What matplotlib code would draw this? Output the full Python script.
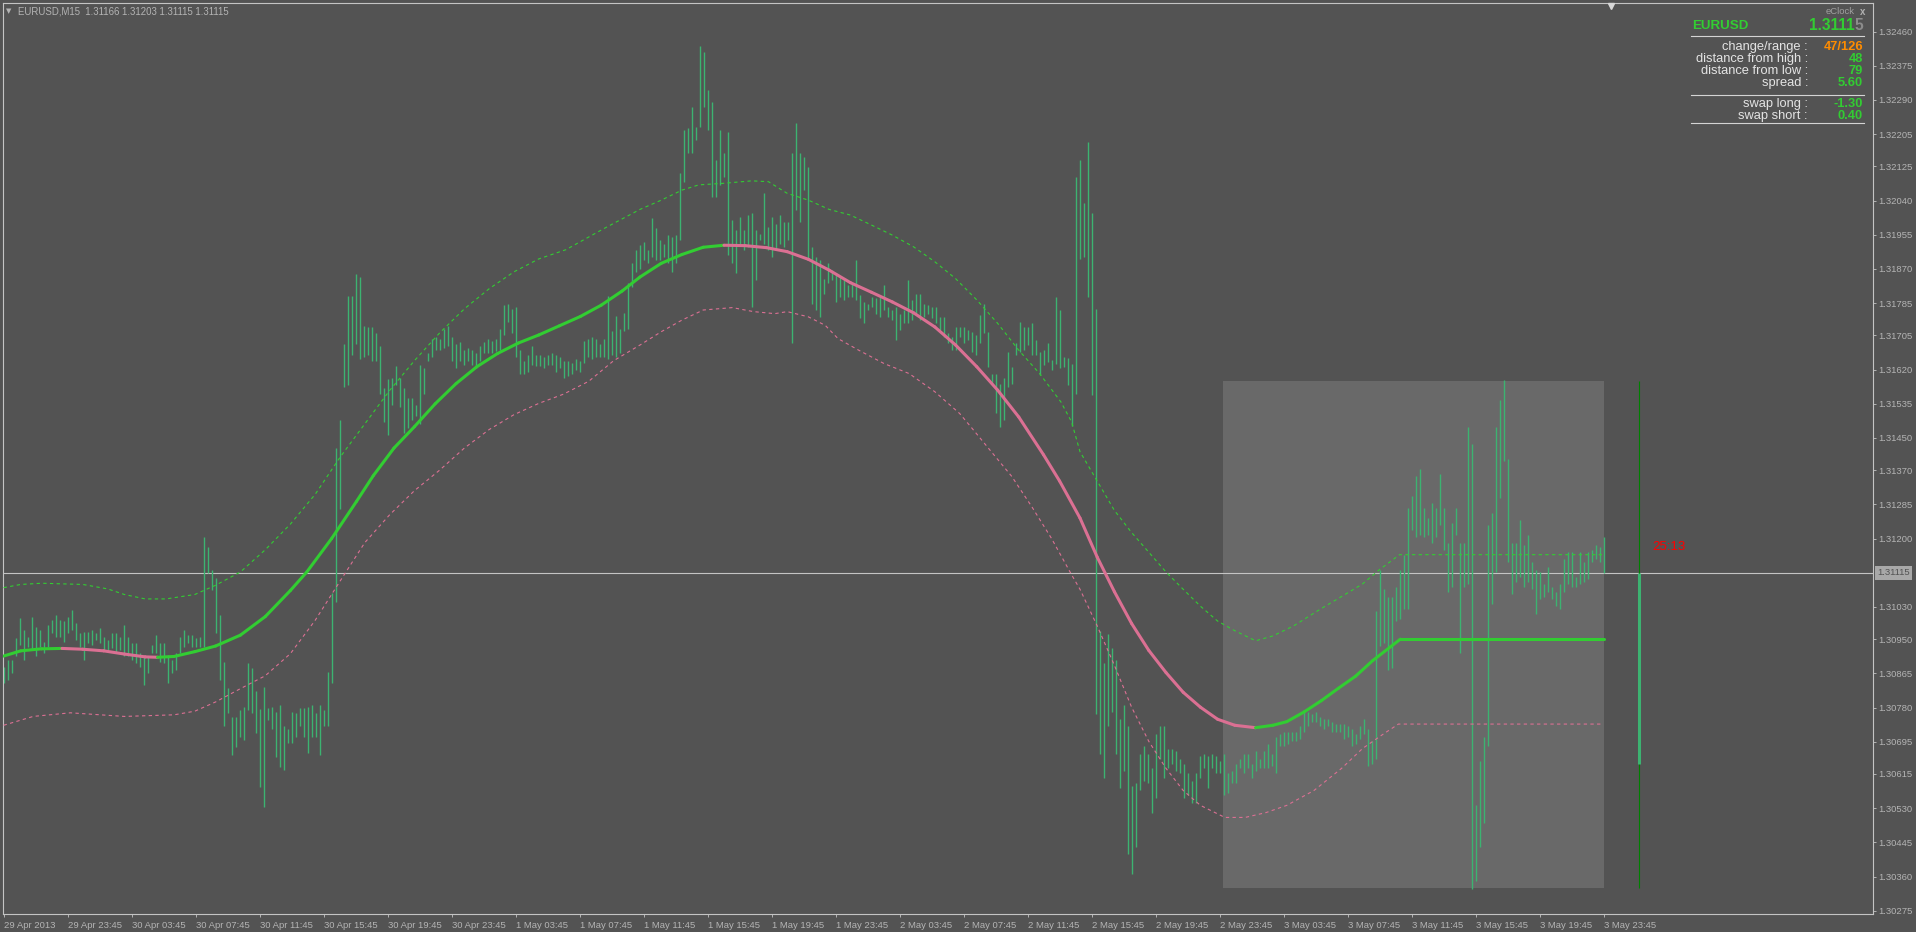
import numpy as np
import matplotlib.pyplot as plt
from matplotlib.patches import Rectangle
from matplotlib.collections import LineCollection
from matplotlib.lines import Line2D

plt.rcParams['font.family'] = ['Liberation Sans', 'DejaVu Sans']

W, H = 1916, 932
BG = '#535353'
TXT = '#b4b4b4'
BAR = '#3cb371'
UP = '#32cd32'
DN = '#db7093'

# EURUSD M15, bar 0 = 29 Apr 19:45 ... bar 400 = 3 May 23:45
# high / low in points above 1.30000
hi_pts = [
    882, 898, 898, 952, 1002, 973, 956, 1006, 981, 973,
    944, 985, 998, 1010, 998, 994, 1006, 1023, 990, 965,
    969, 969, 973, 965, 977, 956, 948, 965, 965, 956,
    985, 956, 940, 940, 915, 907, 907, 936, 961, 940,
    940, 911, 898, 915, 956, 973, 961, 961, 952, 956,
    1205, 1180, 1122, 1101, 1010, 894, 828, 757, 757, 774,
    782, 890, 878, 820, 776, 831, 778, 782, 770, 787,
    733, 728, 770, 766, 778, 778, 782, 787, 766, 787,
    774, 869, 1064, 1425, 1494, 1683, 1803, 1803, 1858, 1849,
    1729, 1725, 1725, 1711, 1679, 1573, 1596, 1600, 1628, 1600,
    1573, 1550, 1550, 1531, 1632, 1623, 1660, 1697, 1702, 1697,
    1720, 1729, 1702, 1683, 1688, 1669, 1674, 1669, 1660, 1679,
    1688, 1697, 1692, 1697, 1720, 1780, 1784, 1771, 1775, 1669,
    1642, 1655, 1679, 1655, 1655, 1651, 1655, 1660, 1655, 1651,
    1642, 1642, 1637, 1646, 1642, 1692, 1697, 1702, 1697, 1683,
    1697, 1803, 1715, 1752, 1720, 1761, 1835, 1886, 1918, 1930,
    1938, 1917, 1996, 1971, 1942, 1933, 1954, 1950, 1954, 2108,
    2215, 2220, 2273, 2224, 2423, 2410, 2315, 2286, 2141, 2215,
    2157, 2211, 1991, 1967, 1999, 1967, 2004, 2008, 1967, 1958,
    2058, 1975, 1999, 1983, 2004, 1987, 1987, 2157, 2232, 2157,
    2149, 2124, 1925, 1900, 1892, 1846, 1884, 1867, 1859, 1851,
    1842, 1830, 1834, 1892, 1805, 1788, 1784, 1801, 1797, 1801,
    1830, 1776, 1768, 1776, 1759, 1768, 1842, 1793, 1809, 1809,
    1784, 1780, 1776, 1776, 1751, 1751, 1710, 1701, 1726, 1726,
    1726, 1718, 1714, 1706, 1755, 1784, 1714, 1610, 1610, 1585,
    1598, 1664, 1627, 1685, 1739, 1726, 1726, 1735, 1693, 1664,
    1668, 1685, 1643, 1801, 1768, 1652, 1648, 1635, 2099, 2141,
    2033, 2186, 2008, 1770, 971, 891, 964, 928, 897, 751,
    787, 733, 586, 592, 665, 684, 665, 629, 714, 733,
    733, 677, 677, 671, 653, 641, 617, 598, 617, 659,
    665, 659, 665, 659, 647, 665, 617, 623, 641, 653,
    665, 665, 641, 671, 653, 671, 690, 665, 708, 714,
    720, 720, 720, 720, 733, 775, 769, 763, 769, 757,
    751, 751, 745, 739, 739, 739, 733, 726, 714, 733,
    751, 726, 696, 1019, 1123, 1074, 1056, 1056, 1080, 1123,
    1160, 1276, 1306, 1355, 1374, 1276, 1251, 1288, 1276, 1361,
    1276, 1190, 1239, 1276, 1190, 1190, 1477, 1435, 537, 647,
    708, 1233, 1264, 1477, 1544, 1593, 1398, 1190, 1190, 1245,
    1184, 1209, 1141, 1123, 1117, 1087, 1129, 1080, 1068, 1087,
    1148, 1166, 1166, 1105, 1166, 1141, 1166, 1172, 1184, 1178,
    1203,
]
lo_pts = [
    840, 849, 865, 907, 936, 898, 931, 923, 907, 931,
    915, 931, 965, 956, 956, 944, 965, 973, 948, 931,
    898, 940, 936, 948, 940, 923, 919, 927, 915, 923,
    907, 907, 898, 890, 882, 836, 865, 915, 915, 894,
    890, 840, 865, 873, 915, 931, 940, 931, 931, 931,
    931, 1114, 1072, 965, 849, 733, 766, 662, 683, 708,
    699, 774, 766, 716, 583, 533, 749, 728, 658, 633,
    625, 691, 691, 708, 733, 708, 666, 708, 708, 662,
    733, 733, 840, 1042, 1273, 1577, 1582, 1655, 1683, 1646,
    1651, 1655, 1642, 1642, 1559, 1490, 1458, 1531, 1582, 1527,
    1462, 1476, 1494, 1504, 1485, 1559, 1642, 1651, 1669, 1669,
    1674, 1679, 1642, 1623, 1642, 1632, 1642, 1632, 1623, 1642,
    1660, 1660, 1660, 1665, 1669, 1706, 1738, 1711, 1651, 1609,
    1609, 1614, 1632, 1628, 1628, 1623, 1632, 1632, 1614, 1623,
    1600, 1605, 1609, 1619, 1614, 1637, 1651, 1646, 1651, 1651,
    1651, 1646, 1655, 1651, 1660, 1715, 1720, 1826, 1863, 1870,
    1892, 1884, 1900, 1892, 1892, 1900, 1884, 1863, 1884, 1942,
    2087, 2157, 2157, 2190, 2224, 2273, 2215, 2050, 2050, 2079,
    2099, 1904, 1884, 1859, 1933, 1917, 1925, 1776, 1842, 1942,
    1933, 1917, 1900, 1917, 1933, 1925, 1942, 1685, 2016, 1987,
    2066, 1892, 1784, 1768, 1751, 1809, 1834, 1842, 1788, 1801,
    1793, 1801, 1801, 1793, 1747, 1735, 1768, 1776, 1759, 1751,
    1768, 1751, 1743, 1693, 1718, 1735, 1735, 1743, 1759, 1743,
    1751, 1759, 1747, 1735, 1718, 1701, 1685, 1668, 1668, 1701,
    1685, 1693, 1664, 1656, 1685, 1710, 1627, 1585, 1511, 1478,
    1494, 1577, 1585, 1656, 1664, 1668, 1681, 1656, 1656, 1606,
    1631, 1639, 1619, 1635, 1623, 1627, 1581, 1480, 1560, 1896,
    1899, 1801, 1557, 763, 665, 604, 733, 769, 665, 580,
    623, 415, 366, 433, 574, 598, 592, 519, 555, 653,
    604, 629, 641, 623, 617, 555, 562, 543, 543, 604,
    629, 580, 629, 617, 617, 562, 568, 592, 592, 629,
    617, 629, 604, 623, 629, 629, 629, 635, 617, 684,
    684, 690, 696, 696, 702, 720, 733, 745, 745, 733,
    726, 733, 720, 720, 720, 702, 708, 684, 690, 702,
    714, 635, 641, 653, 934, 940, 873, 879, 995, 1001,
    1025, 1025, 1221, 1203, 1209, 1203, 1209, 1190, 1203, 1233,
    1172, 1068, 1080, 1209, 916, 1080, 1087, 330, 348, 433,
    494, 684, 1038, 1117, 1300, 1392, 1141, 1062, 1093, 1105,
    1080, 1093, 1074, 1013, 1050, 1056, 1068, 1050, 1032, 1026,
    1068, 1087, 1080, 1080, 1087, 1093, 1099, 1141, 1148, 1141,
    1115,
]

# centered moving average and its bands (bar index, points)
ma_x = [0, 4.3, 9.5, 14.6, 19.8, 25, 30.2, 35.4, 38.5, 42.6, 47.8, 53, 59.2, 65.4,
        71.7, 75.8, 82, 88.2, 92.4, 97.6, 102.7, 107.9, 113.1, 118.3, 123.5, 128.7,
        133.8, 139, 144.2, 149.4, 154.6, 159.1, 164.4, 169.6, 174.9, 180.1, 185.4,
        190.7, 195.9, 201.2, 206.4, 211.7, 217, 222.2, 227.5, 232.8, 238, 243.3,
        248.5, 253.8, 260, 264, 269.1, 273.4, 277.7, 282, 286.3, 290.6, 294.9, 299.2,
        303.5, 307.8, 313, 317.3, 320.8, 325.1, 329.4, 333.7, 338, 342.3, 346.6,
        349.2, 400]
ma_pts = [908, 921, 926, 927, 925, 921, 913, 906, 905, 907, 919, 933, 960, 1006,
          1071, 1117, 1200, 1292, 1356, 1425, 1478, 1535, 1585, 1627, 1660, 1686,
          1706, 1729, 1752, 1780, 1815, 1850, 1884, 1906, 1924, 1929, 1928,
          1923, 1913, 1894, 1867, 1836, 1812, 1788, 1761, 1726, 1681, 1627,
          1569, 1502, 1408, 1343, 1251, 1154, 1068, 989, 922, 867, 818, 781,
          751, 736, 730, 736, 745, 769, 797, 828, 858, 897, 930,
          950, 950]

up_x = [0, 4.3, 9.5, 19.8, 26, 30.2, 35.4, 40.6, 47.8, 53, 59.2, 65.4, 71.7, 77.9,
        84.1, 90.3, 96.5, 102.7, 109, 115.2, 121.4, 127.6, 133.8, 140.6, 150, 159.1,
        164.4, 169.6, 173.8, 180.1, 187, 191.2, 195.9, 201.2, 206.4, 211.7, 217,
        222.2, 227.5, 232.8, 238, 243.3, 248.5, 253.8, 259, 264.3, 267, 269.1, 273.4,
        277.7, 282, 286.3, 290.6, 294.9, 299.2, 303.5, 307.8, 313, 317.3, 322.5,
        329.4, 334.5, 339.7, 344, 349, 400]
up_pts = [1078, 1086, 1089, 1086, 1075, 1061, 1050, 1050, 1061, 1084, 1117, 1172,
          1236, 1310, 1402, 1485, 1568, 1642, 1711, 1771, 1821, 1863, 1895, 1918,
          1970, 2018, 2041, 2066, 2079, 2083, 2089, 2087, 2058, 2041, 2018, 2004,
          1979, 1954, 1925, 1888, 1846, 1793, 1735, 1668, 1610, 1540, 1490, 1416,
          1343, 1270, 1215, 1166, 1117, 1074, 1032, 995, 971, 946, 958, 983, 1026,
          1056, 1087, 1123, 1160, 1160]

dn_x = [0, 7.4, 16.7, 30.2, 42.6, 47.8, 53, 59.2, 65.4, 71.7, 77.9, 84.1, 90.3,
        96.5, 102.7, 109, 115.2, 121.4, 127.6, 133.8, 140, 146.3, 152.5, 159.1,
        164.4, 169.6, 174.9, 182.2, 187.5, 192.8, 195.9, 201.2, 205.4, 208.6, 213.8,
        220.1, 226.4, 232.8, 239, 242.2, 247, 252, 257, 262, 267, 269.1, 273.4, 277.7,
        282, 286.3, 290.6, 294.9, 299.2, 305.3, 310.4, 315.6, 320.8, 327.6, 334.5,
        339.7, 344.9, 348.7, 400]
dn_pts = [736, 758, 767, 758, 762, 771, 794, 827, 859, 914, 997, 1094, 1190, 1259,
          1319, 1370, 1425, 1471, 1508, 1536, 1559, 1591, 1642, 1681, 1714, 1743,
          1768, 1774, 1764, 1759, 1764, 1751, 1730, 1697, 1668, 1635, 1610, 1565,
          1511, 1473, 1415, 1355, 1280, 1200, 1110, 1074, 983, 885, 781, 696, 629,
          574, 537, 507, 507, 519, 537, 574, 629, 678, 714, 739, 739]

x_labels = ['29 Apr 2013', '29 Apr 23:45', '30 Apr 03:45', '30 Apr 07:45', '30 Apr 11:45',
            '30 Apr 15:45', '30 Apr 19:45', '30 Apr 23:45', '1 May 03:45', '1 May 07:45',
            '1 May 11:45', '1 May 15:45', '1 May 19:45', '1 May 23:45', '2 May 03:45',
            '2 May 07:45', '2 May 11:45', '2 May 15:45', '2 May 19:45', '2 May 23:45',
            '3 May 03:45', '3 May 07:45', '3 May 11:45', '3 May 15:45', '3 May 19:45',
            '3 May 23:45']
y_labels = ['1.32460', '1.32375', '1.32290', '1.32205', '1.32125', '1.32040', '1.31955',
            '1.31870', '1.31785', '1.31705', '1.31620', '1.31535', '1.31450', '1.31370',
            '1.31285', '1.31200', '1.31030', '1.30950', '1.30865', '1.30780',
            '1.30695', '1.30615', '1.30530', '1.30445', '1.30360', '1.30275']

bid = 1.31115
day_high, day_low, day_open = 1.31592, 1.30331, 1.30640
day_start, day_end = 304.85, 400.0
clock_bar = 408.8


def price(p):
    return 1.3 + np.asarray(p, dtype=float) / 1e5


fig = plt.figure(figsize=(W / 100, H / 100), dpi=100, facecolor=BG)
ax = fig.add_axes([3 / W, 18 / H, 1870 / W, 911 / H])
ax.set_facecolor(BG)
ax.set_xlim(-0.15, 467.35)
ax.set_ylim(1.30267, 1.32531)

# today's range box
ax.add_patch(Rectangle((day_start, day_low), day_end - day_start, day_high - day_low,
                       fc='#696969', ec='none', zorder=0.5))

# bars
idx = np.arange(len(hi_pts))
ax.vlines(idx, price(lo_pts), price(hi_pts), color=BAR, lw=1.0, zorder=2)

# bands
ax.plot(up_x, price(up_pts), color=UP, lw=0.8, ls=(0, (3, 3)), zorder=3)
ax.plot(dn_x, price(dn_pts), color=DN, lw=0.8, ls=(0, (3, 3)), zorder=3)

# MA, green when rising, pink when falling
ma_p = price(ma_pts)
pts = np.column_stack([ma_x, ma_p])
segs = np.stack([pts[:-1], pts[1:]], axis=1)
cols = [DN if b < a else UP for a, b in zip(ma_p[:-1], ma_p[1:])]
ax.add_collection(LineCollection(segs, colors=cols, linewidths=2.2, zorder=4,
                                 capstyle='round'))

# bid line
ax.axhline(bid, color='#c4c4c4', lw=0.8, zorder=1)

# candle clock
ax.vlines(clock_bar, day_low, day_high, color='#008000', lw=0.8, zorder=3)
ax.vlines(clock_bar, day_open, bid, color=BAR, lw=2.2, zorder=4)
ax.text(412.3, 1.31180, '25:13', color='#ff0000', fontsize=9.5, ha='left', va='center')

# chart shift marker
ax.plot([401.9], [1.32524], marker='v', ms=5, color='#d8d8d8', clip_on=False, zorder=5)

# axes
for s in ax.spines.values():
    s.set_color('#c4c4c4')
    s.set_linewidth(0.8)
ax.yaxis.tick_right()
ax.set_yticks([float(v) for v in y_labels])
ax.set_yticklabels(y_labels)
ax.set_xticks(np.arange(0, 401, 16))
ax.set_xticklabels(x_labels)
for lab in ax.get_xticklabels():
    lab.set_ha('left')
ax.tick_params(axis='both', colors=TXT, labelsize=6.8, length=2.2, width=0.7)
ax.tick_params(axis='y', pad=1.5)
ax.tick_params(axis='x', pad=2.5)

ax.annotate(f'{bid:.5f}', xy=(1, bid), xycoords=('axes fraction', 'data'),
            xytext=(3.2, 0), textcoords='offset points', ha='left', va='center',
            fontsize=6.8, color=BG,
            bbox=dict(boxstyle='square,pad=0.25', fc='#a8a8a8', ec='none'))


def ft(x, y, s, **kw):
    fig.text(x / W, 1 - y / H, s, va='center', **kw)


def hline(x0, x1, y):
    fig.add_artist(Line2D([x0 / W, x1 / W], [1 - y / H] * 2, color='#d4d4d4', lw=0.8))


# title
ft(6, 11, '▼', color=TXT, fontsize=5, family='DejaVu Sans')
ft(18, 11, 'EURUSD,M15  1.31166 1.31203 1.31115 1.31115', color=TXT, fontsize=6.9)

# info panel
ft(1855, 12, 'eClock', color='#a0a0a0', fontsize=6.8, ha='right')
ft(1865, 12, 'x', color='#b0b0b0', fontsize=7, ha='right', weight='bold')
ft(1692, 26, 'EURUSD', color=UP, fontsize=9.6, weight='bold')
ft(1854.5, 26, '1.3111', color=UP, fontsize=11.2, weight='bold', ha='right')
ft(1863, 26, '5', color='#8c8c8c', fontsize=11.2, weight='bold', ha='right')
hline(1691, 1864, 36)

rows = [('change/range :', '47/126', '#ff8c00', 47),
        ('distance from high :', '48', UP, 59),
        ('distance from low :', '79', UP, 71),
        ('spread :', '5.60', UP, 83),
        ('swap long :', '-1.30', UP, 104),
        ('swap short :', '0.40', UP, 116)]
for lab, val, c, y in rows:
    ft(1808, y, lab, color='#e4e4e4', fontsize=9.3, ha='right')
    ft(1863, y, val, color=c, fontsize=9.3, weight='bold', ha='right')
hline(1691, 1864, 95)
hline(1691, 1864, 123)

fig.savefig('out.png', dpi=100, facecolor=BG)
